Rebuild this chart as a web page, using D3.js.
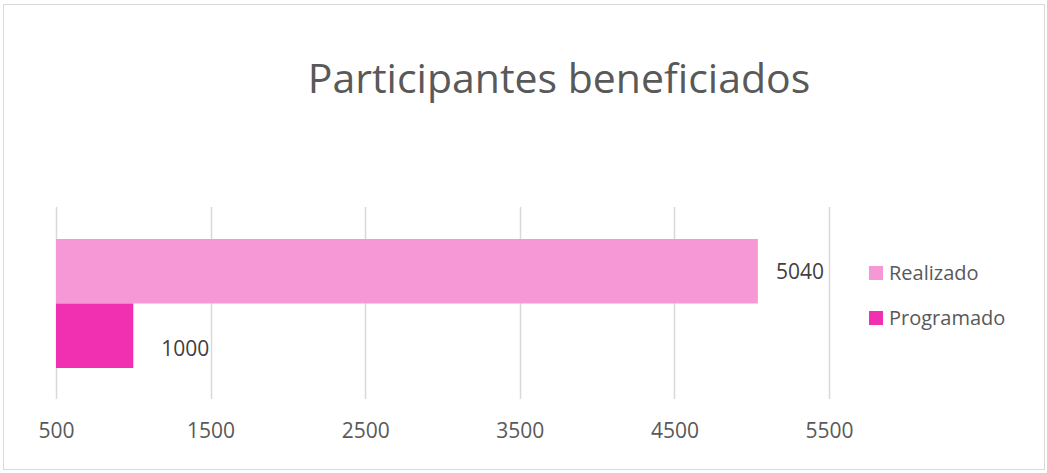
<!DOCTYPE html>
<html>
<head>
<meta charset="utf-8">
<script src="https://cdn.jsdelivr.net/npm/d3@7"></script>
<style>
  html, body { margin: 0; padding: 0; background: #fff; }
  svg { display: block; }
</style>
</head>
<body>
<svg id="chart" width="1047" height="473"></svg>
<script>
// Chart content
const title = "Participantes beneficiados";
const seriesNames = ["Realizado", "Programado"];
const seriesValues = [5040, 1000];
const seriesColors = ["#F798D6", "#F030B0"];
const tickValues = [500, 1500, 2500, 3500, 4500, 5500];

const svg = d3.select("#chart");
const W = 1047, H = 473;
const FONT = "'Open Sans', 'Noto Sans', sans-serif";

// Outer frame
svg.append("rect")
  .attr("x", 3.5).attr("y", 4.5)
  .attr("width", W - 6).attr("height", H - 8)
  .attr("fill", "#fff").attr("stroke", "#d9d9d9").attr("stroke-width", 1);

// Title
svg.append("text")
  .attr("x", 559).attr("y", 93)
  .attr("text-anchor", "middle")
  .attr("font-family", FONT)
  .attr("font-size", 41)
  .attr("fill", "#595959")
  .text(title);

// Plot area
const plot = { left: 56, right: 829, top: 207, bottom: 399 };

const x = d3.scaleLinear()
  .domain([tickValues[0], tickValues[tickValues.length - 1]])
  .range([plot.left, plot.right]);

const y = d3.scaleBand()
  .domain(seriesNames)
  .range([239, 368])
  .paddingInner(0);

// Gridlines
svg.append("g")
  .selectAll("line")
  .data(tickValues)
  .join("line")
  .attr("x1", d => Math.round(x(d)) + 0.5)
  .attr("x2", d => Math.round(x(d)) + 0.5)
  .attr("y1", plot.top).attr("y2", plot.bottom)
  .attr("stroke", "#d9d9d9").attr("stroke-width", 1.5);

// Axis labels
const axis = d3.axisBottom(x)
  .tickValues(tickValues)
  .tickFormat(d3.format("d"))
  .tickSize(0)
  .tickPadding(0);

const axisG = svg.append("g")
  .attr("transform", `translate(0, 438)`)
  .call(axis);
axisG.select(".domain").remove();
axisG.selectAll("text")
  .attr("dy", "0")
  .attr("font-family", FONT)
  .attr("font-size", 21)
  .attr("fill", "#595959");

// Bars
const data = seriesNames.map((name, i) => ({ name, value: seriesValues[i], color: seriesColors[i] }));

svg.append("g")
  .selectAll("rect")
  .data(data)
  .join("rect")
  .attr("x", x(tickValues[0]))
  .attr("y", d => y(d.name))
  .attr("width", d => x(d.value) - x(tickValues[0]))
  .attr("height", y.bandwidth())
  .attr("fill", d => d.color);

// Value labels (second label sits a little lower and further out)
const labelShift = [{ dx: 18, dy: 8 }, { dx: 28, dy: 20 }];
svg.append("g")
  .selectAll("text")
  .data(data)
  .join("text")
  .attr("x", (d, i) => x(d.value) + labelShift[i].dx)
  .attr("y", (d, i) => y(d.name) + y.bandwidth() / 2 + labelShift[i].dy)
  .attr("font-family", FONT)
  .attr("font-size", 21)
  .attr("fill", "#404040")
  .text(d => d.value);

// Legend
const legend = svg.append("g")
  .selectAll("g")
  .data(data)
  .join("g")
  .attr("transform", (d, i) => `translate(869, ${266 + i * 45})`);

legend.append("rect")
  .attr("width", 14).attr("height", 14)
  .attr("fill", d => d.color);

legend.append("text")
  .attr("x", 20).attr("y", 13.5)
  .attr("font-family", FONT)
  .attr("font-size", 20)
  .attr("fill", "#595959")
  .text(d => d.name);
</script>
</body>
</html>
